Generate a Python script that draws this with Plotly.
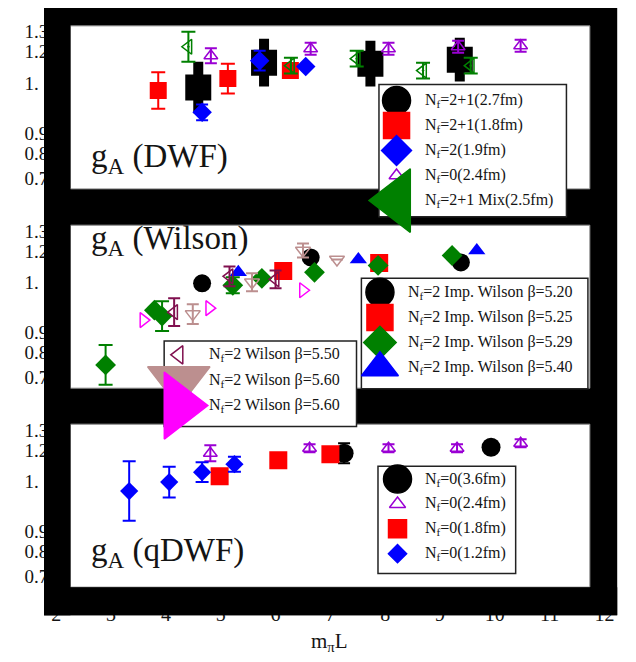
import plotly.graph_objects as go

W, H = 636, 662

# ---------------- data ----------------
x_tick_vals = list(range(2, 13))
y_tick_vals = [1.30, 1.20, 1.04, 0.79, 0.69, 0.565]
y_tick_text = ["1.3", "1.2", "1.\u00a0\u00a0", "0.9", "0.8", "0.7"]
y_range = [0.51, 1.33]
x_range = [2, 12]
x_title = "m<sub>π</sub>L"

panel_titles = ["g<sub>A</sub> (DWF)", "g<sub>A</sub> (Wilson)", "g<sub>A</sub> (qDWF)"]

# panel 1 : DWF
dwf27_x = [4.59, 5.79, 7.73, 9.36]
dwf27_y = [1.02, 1.145, 1.14, 1.16]
dwf27_e = [0.13, 0.12, 0.115, 0.11]
dwf18_x = [3.86, 5.13, 6.27]
dwf18_y = [1.005, 1.065, 1.105]
dwf18_e = [0.092, 0.075, 0.0]
nf2_19_x = [4.66, 5.71, 6.55]
nf2_19_y = [0.895, 1.155, 1.125]
nf2_19_e = [0.04, 0.05, 0.0]
nf0_24_x = [4.82, 6.64, 8.06, 9.33, 10.47]
nf0_24_y = [1.18, 1.215, 1.215, 1.225, 1.23]
nf0_24_e = [0.038, 0.03, 0.03, 0.03, 0.03]
mix25_x = [4.41, 6.28, 7.48, 8.69, 9.56]
mix25_y = [1.225, 1.13, 1.165, 1.105, 1.13]
mix25_e = [0.075, 0.04, 0.04, 0.04, 0.04]

# panel 2 : Wilson
iw520_x = [4.66, 6.64, 9.38]
iw520_y = [1.0375, 1.1675, 1.1425]
iw525_x = [6.14, 7.89]
iw525_y = [1.10, 1.14]
iw529_x = [2.90, 3.79, 3.93, 5.22, 5.75, 6.71, 7.87, 9.22]
iw529_y = [0.627, 0.9025, 0.8725, 1.0275, 1.0625, 1.0925, 1.1275, 1.1775]
iw529_e = [0.10, 0.0, 0.075, 0.04, 0.0, 0.0, 0.0, 0.0]
iw540_x = [5.32, 7.51, 9.67]
iw540_y = [1.0925, 1.1575, 1.2025]
w550_x = [4.15, 5.16, 6.00]
w550_y = [0.8925, 1.0725, 1.0575]
w550_e = [0.07, 0.05, 0.045]
w560a_x = [4.49, 5.57, 6.50, 7.12]
w560a_y = [0.8825, 1.0425, 1.2025, 1.1575]
w560a_e = [0.05, 0.045, 0.035, 0.0]
w560b_x = [3.59, 4.79, 6.50]
w560b_y = [0.8525, 0.9125, 1.0025]

# panel 3 : qDWF
q36_x = [7.25, 9.93]
q36_y = [1.1835, 1.2135]
q36_e = [0.05, 0.0]
q24_x = [4.81, 6.62, 8.06, 9.31, 10.47]
q24_y = [1.1835, 1.2085, 1.2085, 1.2085, 1.2335]
q24_e = [0.04, 0.02, 0.02, 0.02, 0.02]
q18_x = [4.98, 6.05, 7.00]
q18_y = [1.068, 1.148, 1.178]
q12_x = [3.33, 4.06, 4.66, 5.25]
q12_y = [0.9935, 1.0385, 1.0885, 1.1285]
q12_e = [0.15, 0.0775, 0.05, 0.0375]

legend_dwf_labels = ["N<sub>f</sub>=2+1(2.7fm)", "N<sub>f</sub>=2+1(1.8fm)", "N<sub>f</sub>=2(1.9fm)",
                     "N<sub>f</sub>=0(2.4fm)", "N<sub>f</sub>=2+1 Mix(2.5fm)"]
legend_iw_labels = ["N<sub>f</sub>=2 Imp. Wilson β=5.20", "N<sub>f</sub>=2 Imp. Wilson β=5.25",
                    "N<sub>f</sub>=2 Imp. Wilson β=5.29", "N<sub>f</sub>=2 Imp. Wilson β=5.40"]
legend_w_labels = ["N<sub>f</sub>=2 Wilson β=5.50", "N<sub>f</sub>=2 Wilson β=5.60", "N<sub>f</sub>=2 Wilson β=5.60"]
legend_q_labels = ["N<sub>f</sub>=0(3.6fm)", "N<sub>f</sub>=0(2.4fm)", "N<sub>f</sub>=0(1.8fm)", "N<sub>f</sub>=0(1.2fm)"]

# ---------------- styles ----------------
BLACK, RED, BLUE, PURPLE, GREEN = "#000000", "#ff0000", "#0000ff", "#9a00d4", "#008000"
MAROON, ROSY, MAGENTA = "#80104f", "#bc8f8f", "#ff00ff"
SERIF = "Liberation Serif"
TXT = "#141414"

fig = go.Figure()


def add_series(x, y, err, yaxis, symbol, color, size, ethick=2, ewidth=6, lw=1.5):
    kw = {}
    if err is not None:
        kw["error_y"] = dict(type="data", array=err, visible=True, color=color,
                             thickness=ethick, width=ewidth)
    fig.add_trace(go.Scatter(
        x=x, y=y, mode="markers", xaxis="x", yaxis=yaxis,
        marker=dict(symbol=symbol, color=color, size=size, line=dict(color=color, width=lw)),
        showlegend=False, hoverinfo="skip", **kw))


# panel 1
add_series(dwf27_x, dwf27_y, dwf27_e, "y", "square", BLACK, 26, ethick=10, ewidth=0, lw=0)
add_series(dwf18_x, dwf18_y, dwf18_e, "y", "square", RED, 17, ewidth=7, lw=0)
add_series(nf2_19_x, nf2_19_y, nf2_19_e, "y", "diamond", BLUE, 15, ewidth=6, lw=0)
add_series(nf0_24_x, nf0_24_y, nf0_24_e, "y", "triangle-up-open", PURPLE, 12, ewidth=6)
add_series(mix25_x, mix25_y, mix25_e, "y", "triangle-left-open-dot", GREEN, 13, ewidth=7)
# panel 2
add_series(iw520_x, iw520_y, None, "y2", "circle", BLACK, 18, lw=0)
add_series(iw525_x, iw525_y, None, "y2", "square", RED, 18, lw=0)
add_series(iw529_x, iw529_y, iw529_e, "y2", "diamond", GREEN, 16, ewidth=7, lw=0)
add_series(iw540_x, iw540_y, None, "y2", "triangle-up", BLUE, 15, lw=0)
add_series(w550_x, w550_y, w550_e, "y2", "triangle-left-open", MAROON, 13, ewidth=6)
add_series(w560a_x, w560a_y, w560a_e, "y2", "triangle-down-open", ROSY, 13, ewidth=6)
add_series(w560b_x, w560b_y, None, "y2", "triangle-right-open", MAGENTA, 13)
# panel 3
add_series(q36_x, q36_y, q36_e, "y3", "circle", BLACK, 19, ewidth=6, lw=0)
add_series(q24_x, q24_y, q24_e, "y3", "triangle-up-open", PURPLE, 12, ewidth=6)
add_series(q18_x, q18_y, None, "y3", "square", RED, 18, lw=0)
add_series(q12_x, q12_y, q12_e, "y3", "diamond", BLUE, 14, ewidth=6.5, lw=0)

# ---------------- geometry (pixels) ----------------
frame = (40, 4, 627, 615)
panel_tops = [22, 222.5, 422.7]
panel_h = 164
panel_x = (67, 599)
x_px = (52.5, 614)


def rect(x0, y0, x1, y1, fill, line=None, layer="below"):
    return dict(type="rect", xref="paper", yref="paper", x0=x0 / W, x1=x1 / W,
                y0=1 - y1 / H, y1=1 - y0 / H, fillcolor=fill, layer=layer,
                line=line if line is not None else dict(width=0))


shapes = [rect(*frame, "black")]
for t in panel_tops:
    shapes.append(rect(panel_x[0], t, panel_x[1], t + panel_h, "white", dict(color="#8a8a8a", width=1)))

# manual legends (oversized symbols as in the original)
legends = [
    dict(box=(383, 81, 575, 214), row0=97, dy=25.2, sx=401, tx=428, labels=legend_dwf_labels,
         sym=[("circle", BLACK, 28), ("square", RED, 26), ("diamond", BLUE, 23),
              ("triangle-up-open", PURPLE, 13), ("triangle-left", GREEN, 55)]),
    dict(box=(365, 276, 597, 387), row0=290, dy=25.3, sx=384, tx=411, labels=legend_iw_labels,
         sym=[("circle", BLACK, 28), ("square", RED, 26), ("diamond", GREEN, 25),
              ("triangle-up", BLUE, 32)]),
    dict(box=(163, 339, 360, 425), row0=353, dy=25.5, sx=178, tx=207, labels=legend_w_labels,
         sym=[("triangle-left-open", MAROON, 16), ("triangle-down", ROSY, 54),
              ("triangle-right", MAGENTA, 58)]),
    dict(box=(382, 465, 523, 573), row0=478, dy=25.0, sx=402, tx=428, labels=legend_q_labels,
         sym=[("circle", BLACK, 28), ("triangle-up-open", PURPLE, 14), ("square", RED, 18),
              ("diamond", BLUE, 14)]),
]

annotations = []
for lg in legends:
    shapes.append(rect(*lg["box"], "white", dict(color="#222", width=1.5)))
    for i, (lab, (sym, col, sz)) in enumerate(zip(lg["labels"], lg["sym"])):
        yy = lg["row0"] + i * lg["dy"]
        fig.add_trace(go.Scatter(
            x=[lg["sx"]], y=[yy], mode="markers", xaxis="x2", yaxis="y4",
            marker=dict(symbol=sym, color=col, size=sz, line=dict(color=col, width=1.5)),
            showlegend=False, hoverinfo="skip", cliponaxis=False))
        annotations.append(dict(
            text=lab, xref="paper", yref="paper", x=lg["tx"] / W, y=1 - yy / H,
            xanchor="left", yanchor="middle", showarrow=False,
            font=dict(family=SERIF, size=16, color=TXT)))

# black strips that clip the tick labels (drawn above the axes)
shapes.append(rect(40, 4, 67, 615, "black", layer="above"))
shapes.append(rect(40, 586.7, 627, 615, "black", layer="above"))

title_mid = [155, 238, 552]
for txt, ym in zip(panel_titles, title_mid):
    annotations.append(dict(
        text=txt, xref="paper", yref="paper", x=86 / W, y=1 - ym / H,
        xanchor="left", yanchor="middle", showarrow=False,
        font=dict(family=SERIF, size=33, color=TXT)))

# axis title
annotations.append(dict(
    text=x_title, xref="paper", yref="paper", x=332 / W, y=1 - 642 / H,
    xanchor="center", yanchor="middle", showarrow=False,
    font=dict(family=SERIF, size=21, color=TXT)))

ytickfont = dict(family=SERIF, size=19, color=TXT)
xtickfont = dict(family=SERIF, size=20, color=TXT)
layout = dict(
    width=W, height=H, margin=dict(l=0, r=0, t=0, b=0),
    paper_bgcolor="white", plot_bgcolor="rgba(0,0,0,0)",
    showlegend=False, shapes=shapes, annotations=annotations,
    xaxis=dict(domain=[x_px[0] / W, x_px[1] / W], range=x_range, anchor="free",
               position=1 - 600 / H, tickvals=x_tick_vals, ticks="", showgrid=False,
               zeroline=False, showline=False, tickfont=xtickfont),
    xaxis2=dict(domain=[0, 1], range=[0, W], visible=False, anchor="y4"),
    yaxis4=dict(domain=[0, 1], range=[H, 0], visible=False, anchor="x2"),
)
for k, t in enumerate(panel_tops):
    name = "yaxis" if k == 0 else f"yaxis{k + 1}"
    layout[name] = dict(domain=[1 - (t + panel_h) / H, 1 - t / H], range=y_range, anchor="x",
                        tickvals=y_tick_vals, ticktext=y_tick_text, ticks="", showgrid=False,
                        zeroline=False, showline=False, tickfont=ytickfont, ticklabelstandoff=7)

fig.update_layout(**layout)
fig.write_html("out.html")
